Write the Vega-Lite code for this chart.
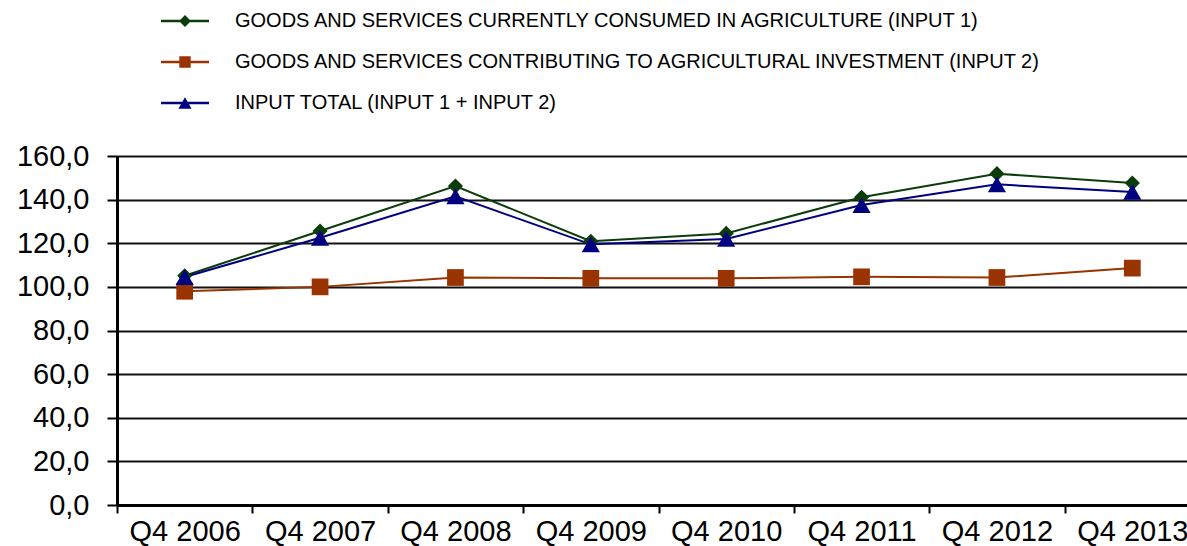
{
  "$schema": "https://vega.github.io/schema/vega-lite/v6.json",
  "width": 1083,
  "height": 349,
  "autosize": {"type": "none"},
  "padding": {"left": 117, "top": 156, "right": 0, "bottom": 41},
  "background": "white",
  "config": {"view": {"stroke": null}, "font": "Liberation Sans"},
  "data": {
    "values": [
      {"q": "Q4 2006", "series": "GOODS AND SERVICES CURRENTLY CONSUMED IN AGRICULTURE (INPUT 1)", "v": 105.1},
      {"q": "Q4 2007", "series": "GOODS AND SERVICES CURRENTLY CONSUMED IN AGRICULTURE (INPUT 1)", "v": 125.6},
      {"q": "Q4 2008", "series": "GOODS AND SERVICES CURRENTLY CONSUMED IN AGRICULTURE (INPUT 1)", "v": 146.2},
      {"q": "Q4 2009", "series": "GOODS AND SERVICES CURRENTLY CONSUMED IN AGRICULTURE (INPUT 1)", "v": 120.9},
      {"q": "Q4 2010", "series": "GOODS AND SERVICES CURRENTLY CONSUMED IN AGRICULTURE (INPUT 1)", "v": 124.5},
      {"q": "Q4 2011", "series": "GOODS AND SERVICES CURRENTLY CONSUMED IN AGRICULTURE (INPUT 1)", "v": 141.1},
      {"q": "Q4 2012", "series": "GOODS AND SERVICES CURRENTLY CONSUMED IN AGRICULTURE (INPUT 1)", "v": 151.9},
      {"q": "Q4 2013", "series": "GOODS AND SERVICES CURRENTLY CONSUMED IN AGRICULTURE (INPUT 1)", "v": 147.6},
      {"q": "Q4 2006", "series": "GOODS AND SERVICES CONTRIBUTING TO AGRICULTURAL INVESTMENT (INPUT 2)", "v": 98.0},
      {"q": "Q4 2007", "series": "GOODS AND SERVICES CONTRIBUTING TO AGRICULTURAL INVESTMENT (INPUT 2)", "v": 100.0},
      {"q": "Q4 2008", "series": "GOODS AND SERVICES CONTRIBUTING TO AGRICULTURAL INVESTMENT (INPUT 2)", "v": 104.3},
      {"q": "Q4 2009", "series": "GOODS AND SERVICES CONTRIBUTING TO AGRICULTURAL INVESTMENT (INPUT 2)", "v": 103.9},
      {"q": "Q4 2010", "series": "GOODS AND SERVICES CONTRIBUTING TO AGRICULTURAL INVESTMENT (INPUT 2)", "v": 103.9},
      {"q": "Q4 2011", "series": "GOODS AND SERVICES CONTRIBUTING TO AGRICULTURAL INVESTMENT (INPUT 2)", "v": 104.6},
      {"q": "Q4 2012", "series": "GOODS AND SERVICES CONTRIBUTING TO AGRICULTURAL INVESTMENT (INPUT 2)", "v": 104.3},
      {"q": "Q4 2013", "series": "GOODS AND SERVICES CONTRIBUTING TO AGRICULTURAL INVESTMENT (INPUT 2)", "v": 108.6},
      {"q": "Q4 2006", "series": "INPUT TOTAL (INPUT 1 + INPUT 2)", "v": 104.5},
      {"q": "Q4 2007", "series": "INPUT TOTAL (INPUT 1 + INPUT 2)", "v": 122.5},
      {"q": "Q4 2008", "series": "INPUT TOTAL (INPUT 1 + INPUT 2)", "v": 141.5},
      {"q": "Q4 2009", "series": "INPUT TOTAL (INPUT 1 + INPUT 2)", "v": 119.5},
      {"q": "Q4 2010", "series": "INPUT TOTAL (INPUT 1 + INPUT 2)", "v": 122.0},
      {"q": "Q4 2011", "series": "INPUT TOTAL (INPUT 1 + INPUT 2)", "v": 137.5},
      {"q": "Q4 2012", "series": "INPUT TOTAL (INPUT 1 + INPUT 2)", "v": 147.0},
      {"q": "Q4 2013", "series": "INPUT TOTAL (INPUT 1 + INPUT 2)", "v": 143.5}
    ]
  },
  "encoding": {
    "x": {
      "field": "q", "type": "ordinal",
      "scale": {"type": "band", "paddingInner": 0, "paddingOuter": 0},
      "axis": {
        "title": null, "labelAngle": 0, "tickBand": "extent", "tickSize": 8, "tickWidth": 2,
        "tickColor": "#000", "domainColor": "#000", "domainWidth": 3,
        "labelFontSize": 29, "labelColor": "#000", "labelPadding": 4, "grid": false
      }
    },
    "y": {
      "field": "v", "type": "quantitative",
      "scale": {"domain": [0, 160], "nice": false, "zero": true},
      "axis": {
        "title": null, "values": [0, 20, 40, 60, 80, 100, 120, 140, 160],
        "labelExpr": "replace(format(datum.value, '.1f'), '.', ',')",
        "grid": true, "gridColor": "#111", "gridWidth": 2,
        "tickSize": 10, "tickWidth": 2, "tickColor": "#000",
        "domainColor": "#000", "domainWidth": 3,
        "labelFontSize": 29, "labelColor": "#000", "labelPadding": 18
      }
    },
    "color": {
      "field": "series", "type": "nominal",
      "scale": {
        "domain": [
          "GOODS AND SERVICES CURRENTLY CONSUMED IN AGRICULTURE (INPUT 1)",
          "GOODS AND SERVICES CONTRIBUTING TO AGRICULTURAL INVESTMENT (INPUT 2)",
          "INPUT TOTAL (INPUT 1 + INPUT 2)"
        ],
        "range": ["#0b3d0b", "#993300", "#000080"]
      },
      "legend": null
    }
  },
  "layer": [
    {
      "mark": {"type": "line", "strokeWidth": 2}
    },
    {
      "transform": [{"filter": "indexof(datum.series, 'INPUT 1)') >= 0"}],
      "mark": {"type": "point", "shape": "diamond", "filled": true, "size": 230, "opacity": 1}
    },
    {
      "transform": [{"filter": "indexof(datum.series, 'INVESTMENT') >= 0"}],
      "mark": {"type": "point", "shape": "square", "filled": true, "size": 280, "opacity": 1}
    },
    {
      "transform": [{"filter": "indexof(datum.series, 'TOTAL') >= 0"}],
      "mark": {"type": "point", "shape": "triangle-up", "filled": true, "size": 330, "opacity": 1}
    },
    {
      "mark": {"type": "point", "filled": true, "opacity": 0},
      "encoding": {
        "color": {
          "field": "series", "type": "nominal",
          "scale": {
            "domain": [
              "GOODS AND SERVICES CURRENTLY CONSUMED IN AGRICULTURE (INPUT 1)",
              "GOODS AND SERVICES CONTRIBUTING TO AGRICULTURAL INVESTMENT (INPUT 2)",
              "INPUT TOTAL (INPUT 1 + INPUT 2)"
            ],
            "range": ["#0b3d0b", "#993300", "#000080"]
          },
          "legend": {
            "title": null, "orient": "none", "legendX": 58, "legendY": -145,
            "direction": "vertical", "symbolSize": 144, "symbolStrokeWidth": 0, "symbolOpacity": 1,
            "labelFontSize": 20, "labelColor": "#000", "labelOffset": 40, "rowPadding": 21,
            "labelLimit": 1000, "padding": 0
          }
        },
        "shape": {
          "field": "series", "type": "nominal",
          "scale": {
            "domain": [
              "GOODS AND SERVICES CURRENTLY CONSUMED IN AGRICULTURE (INPUT 1)",
              "GOODS AND SERVICES CONTRIBUTING TO AGRICULTURAL INVESTMENT (INPUT 2)",
              "INPUT TOTAL (INPUT 1 + INPUT 2)"
            ],
            "range": [
              "M-4,-0.2H4V0.2H-4Z M-1,0L0,-1L1,0L0,1Z",
              "M-4,-0.2H4V0.2H-4Z M-0.95,-0.95H0.95V0.95H-0.95Z",
              "M-4,-0.2H4V0.2H-4Z M0,-0.95L1.1,0.95H-1.1Z"
            ]
          },
          "legend": {
            "title": null, "orient": "none", "legendX": 58, "legendY": -145,
            "direction": "vertical", "symbolSize": 144, "symbolStrokeWidth": 0, "symbolOpacity": 1,
            "labelFontSize": 20, "labelColor": "#000", "labelOffset": 40, "rowPadding": 21,
            "labelLimit": 1000, "padding": 0
          }
        }
      }
    }
  ],
  "resolve": {"scale": {"shape": "independent", "color": "independent"}}
}
